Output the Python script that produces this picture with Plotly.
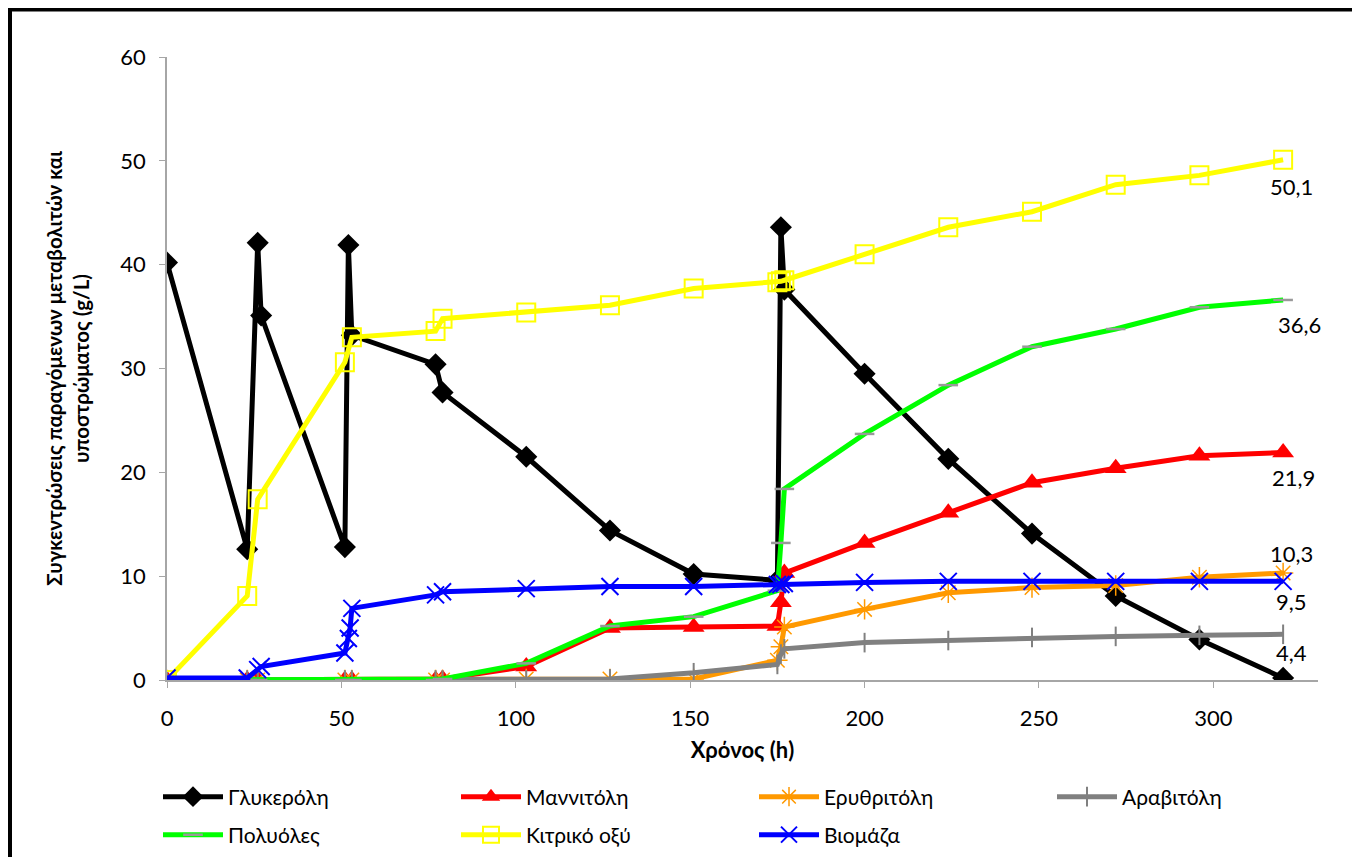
import plotly.graph_objects as go

# ---- data ----
t_gly = [0, 23, 26, 27, 51, 52, 53, 77, 79, 103, 127, 151, 175, 176, 177, 200, 224, 248, 272, 296, 320]
glycerol = [40.2, 12.6, 42.1, 35.1, 12.8, 41.9, 33.2, 30.4, 27.7, 21.5, 14.4, 10.2, 9.6, 43.6, 37.6, 29.5, 21.3, 14.1, 8.1, 3.9, 0.2]

t_prod = [0, 23, 26, 51, 53, 77, 79, 103, 127, 151, 175, 176, 177, 200, 224, 248, 272, 296, 320]
mannitol = [0, 0, 0, 0, 0, 0, 0.1, 1.3, 5.0, 5.1, 5.2, 7.5, 10.3, 13.2, 16.1, 19.0, 20.4, 21.6, 21.9]
erythritol = [0, 0, 0, 0, 0, 0, 0, 0.1, 0.1, 0.1, 1.9, 3.2, 5.1, 6.8, 8.4, 8.9, 9.1, 9.9, 10.3]
arabitol = [0, 0, 0, 0, 0, 0, 0, 0, 0.1, 0.7, 1.5, 2.5, 3.0, 3.6, 3.8, 4.1, 4.2, 4.3, 4.4]
polyols = [0, 0, 0, 0, 0, 0, 0.1, 1.6, 5.2, 6.1, 8.6, 13.2, 18.4, 23.7, 28.4, 32.1, 33.8, 35.9, 36.6]
citric = [0, 8.1, 17.4, 30.6, 33.0, 33.6, 34.8, 35.4, 36.1, 37.7, 38.3, 38.4, 38.5, 41.0, 43.6, 45.1, 47.7, 48.6, 50.1]

t_bio = [0, 23, 26, 27, 51, 52, 52.5, 53, 77, 79, 103, 127, 151, 175, 176, 177, 200, 224, 248, 272, 296, 320]
biomass = [0.2, 0.2, 1.0, 1.3, 2.6, 4.0, 5.0, 6.9, 8.2, 8.5, 8.8, 9.0, 9.0, 9.2, 9.2, 9.3, 9.4, 9.5, 9.5, 9.5, 9.5, 9.5]

names = ["Γλυκερόλη", "Μαννιτόλη", "Ερυθριτόλη", "Αραβιτόλη", "Πολυόλες", "Κιτρικό οξύ", "Βιομάζα"]

FONT = "Lato"
OFF = 8  # page body margin

fig = go.Figure()

def add(x, y, name, color, symbol, msize, mcolor=None, mlw=1.5, lw=5, legend="legend"):
    fig.add_trace(go.Scatter(
        x=x, y=y, name=name, mode="lines+markers", legend=legend,
        line=dict(color=color, width=lw),
        marker=dict(symbol=symbol, size=msize, color=mcolor or color,
                    line=dict(color=mcolor or color, width=mlw)),
    ))

add(t_gly, glycerol, names[0], "#000000", "diamond", 17, mlw=0)
add(t_prod, mannitol, names[1], "#FF0000", "triangle-up", 19, mlw=0)
add(t_prod, erythritol, names[2], "#FF9900", "asterisk-open", 17, mlw=1.5)
add(t_prod, arabitol, names[3], "#808080", "line-ns-open", 14, mlw=2)
add(t_prod, polyols, names[4], "#00FF00", "line-ew-open", 14, mcolor="#999999", mlw=2.5, legend="legend2")
add(t_prod, citric, names[5], "#FFFF00", "square-open", 18, mlw=2, legend="legend2")
add(t_bio, biomass, names[6], "#0000FF", "x-thin-open", 17, mlw=2, legend="legend2")

# end-value labels
label_specs = [
    (t_prod, citric, 8, -27),
    (t_prod, polyols, 16, -25),
    (t_prod, mannitol, 10, -25),
    (t_prod, erythritol, 8, 20),
    (t_bio, biomass, 8, -20),
    (t_prod, arabitol, 8, -18),
]
for tt, vals, dx, dy in label_specs:
    fig.add_annotation(x=tt[-1], y=vals[-1], text=f"{vals[-1]:.1f}".replace(".", ","),
                       showarrow=False, xshift=dx, yshift=dy,
                       font=dict(family=FONT, size=22, color="#000000"))

W, H = 1360 - 2 * OFF, 865 - 2 * OFF
L = 167 - OFF
T = 57 - OFF
R = W - (1318 - OFF)
B = H - (680 - OFF)
pw, ph = W - L - R, H - T - B

def px(xr):
    return (xr - OFF - L) / pw

def py(yr):
    return (H - B - (yr - OFF)) / ph

# outer frame (left and top only visible)
fig.add_shape(type="line", xref="paper", yref="paper",
              x0=px(9.5), x1=px(9.5), y0=py(8), y1=py(900),
              line=dict(color="black", width=5))
fig.add_shape(type="line", xref="paper", yref="paper",
              x0=px(7), x1=px(1362), y0=py(9.5), y1=py(9.5),
              line=dict(color="black", width=4))

leg_common = dict(orientation="h", xanchor="left", yanchor="middle",
                  entrywidth=223, entrywidthmode="pixels", itemwidth=60,
                  font=dict(family=FONT, size=21), tracegroupgap=0,
                  traceorder="normal", bgcolor="rgba(0,0,0,0)")

fig.update_layout(
    width=W, height=H,
    margin=dict(l=L, r=R, t=T, b=B, autoexpand=False),
    paper_bgcolor="white", plot_bgcolor="white",
    font=dict(family=FONT, size=19, color="#000000"),
    showlegend=True,
    legend=dict(x=px(158), y=py(797), **leg_common),
    legend2=dict(x=px(158), y=py(835), **leg_common),
    xaxis=dict(range=[0, 330], tickvals=[0, 50, 100, 150, 200, 250, 300],
               showgrid=False, zeroline=False, showline=True, linecolor="#A6A6A6", linewidth=1.5,
               ticks="outside", ticklen=6, tickcolor="#A6A6A6", ticklabelstandoff=12,
               tickfont=dict(family=FONT, size=22),
               title=dict(text="<b>Χρόνος (h)</b>", font=dict(family=FONT, size=22), standoff=12)),
    yaxis=dict(range=[0, 60], tickvals=[0, 10, 20, 30, 40, 50, 60],
               showgrid=False, zeroline=False, showline=True, linecolor="#A6A6A6", linewidth=1.5,
               ticks="outside", ticklen=6, tickcolor="#A6A6A6", ticklabelstandoff=9,
               tickfont=dict(family=FONT, size=22),
               title=dict(text="<b>Συγκεντρώσεις παραγόμενων μεταβολιτών και<br>υποστρώματος (g/L)</b>",
                          font=dict(family=FONT, size=20.5), standoff=25)),
)

fig.write_html("out.html", config={"displayModeBar": False},
               post_script="document.documentElement.style.overflow='hidden';document.body.style.overflow='hidden';")
